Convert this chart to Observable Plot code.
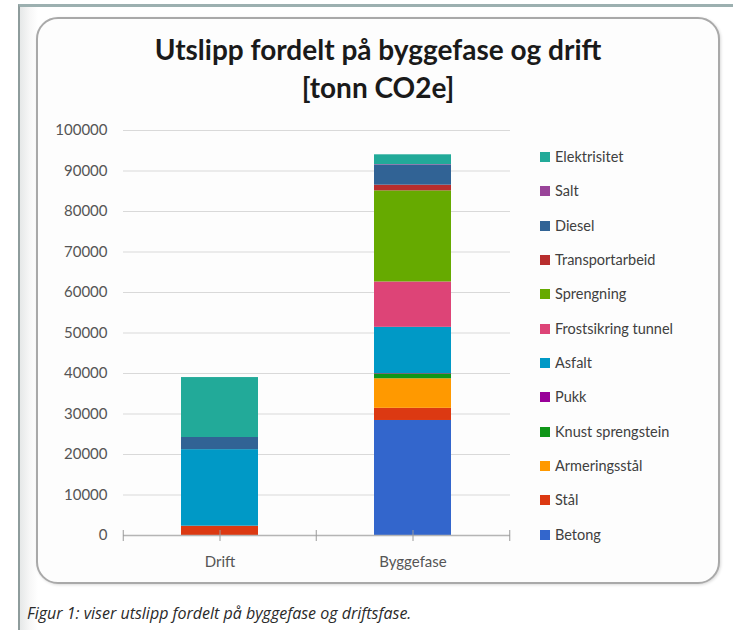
<!DOCTYPE html>
<html>
<head>
<meta charset="utf-8">
<script src="https://cdn.jsdelivr.net/npm/d3@7"></script>
<script src="https://cdn.jsdelivr.net/npm/@observablehq/plot@0.6"></script>
<style>
  html, body { margin: 0; padding: 0; background: #ffffff; }
  #page { position: relative; width: 733px; height: 630px; overflow: hidden; background: #ffffff; font-family: Lato, "Open Sans", sans-serif; }
  #sheet { position: absolute; left: 18px; top: 4px; width: 740px; height: 640px;
    border-left: 2px solid #8e9c9c; border-top: 3px solid #9cb0b0;
    background: linear-gradient(to right, #e6e8e8 0px, #f7f7f7 10px, #ffffff 18px); }
  #frame { position: absolute; left: 36px; top: 17px; width: 680px; height: 563px;
    border: 2px solid #a9a9a9; border-radius: 22px; background: #fdfdfd;
    box-shadow: 1px 1px 3px rgba(0,0,0,0.15); }
  #title { position: absolute; left: 37px; width: 682px; top: 30px; text-align: center;
    font-size: 28px; font-weight: bold; line-height: 38px; color: #1a1a1a; }
  #chart { position: absolute; left: 0; top: 120px; }
  #legend { position: absolute; left: 540px; top: 148px; }
  .item { height: 34.35px; display: flex; align-items: flex-start; font-size: 14.5px; color: #404040; line-height: 18px; }
  .sw { width: 10px; height: 10px; margin-top: 4px; margin-right: 5px; }
  #caption { position: absolute; left: 27px; top: 602px; font-family: "Open Sans", sans-serif; font-size: 16px; font-style: italic; color: #2a2a2a; }
</style>
</head>
<body>
<div id="page">
  <div id="sheet"></div>
  <div id="frame"></div>
  <div id="title">Utslipp fordelt på byggefase og drift<br>[tonn CO2e]</div>
  <div id="chart"></div>
  <div id="legend"></div>
  <div id="caption">Figur 1: viser utslipp fordelt på byggefase og driftsfase.</div>
</div>
<script>
const phases = ["Drift", "Byggefase"];
const sources = ["Betong", "Stål", "Armeringsstål", "Knust sprengstein", "Pukk", "Asfalt",
  "Frostsikring tunnel", "Sprengning", "Transportarbeid", "Diesel", "Salt", "Elektrisitet"];
const drift =     [0,     2300, 0,    0,    0,   18900, 0,     0,     0,    3000, 0,   14800];
const byggefase = [28400, 3000, 7300, 1200, 100, 11400, 11200, 22500, 1400, 5000, 100, 2400];
const colors = ["#3366cc", "#dc3912", "#ff9900", "#109618", "#990099", "#0099c6",
  "#dd4477", "#66aa00", "#b82e2e", "#316395", "#994499", "#22aa99"];
const yTicks = [0, 10000, 20000, 30000, 40000, 50000, 60000, 70000, 80000, 90000, 100000];

const series = {Drift: drift, Byggefase: byggefase};
const data = [];
for (const p of phases) sources.forEach((s, i) => data.push({phase: p, source: s, value: series[p][i]}));

const W = 733, H = 460, mL = 123, mR = 223, mT = 10, mB = 45;
const step = (W - mL - mR) / phases.length;

const chart = Plot.plot({
  width: W, height: H,
  marginLeft: mL, marginRight: mR, marginTop: mT, marginBottom: mB,
  style: {fontFamily: "Lato, 'Open Sans', sans-serif", fontSize: "15px", color: "#595959", background: "transparent"},
  x: {domain: phases, paddingInner: 0.6, paddingOuter: 0.3, axis: null},
  y: {domain: [0, 100000], axis: null},
  color: {domain: sources, range: colors},
  marks: [
    Plot.gridY(yTicks, {stroke: "#d9d9d9", strokeOpacity: 1, strokeWidth: 1.2}),
    Plot.barY(data, {x: "phase", y: "value", fill: "source"}),
    Plot.ruleY([0], {stroke: "#b5b5b5", strokeWidth: 1.5}),
    Plot.axisY(yTicks, {tickSize: 0, tickPadding: 16, tickFormat: d => String(d), fill: "#555", label: null}),
    Plot.axisX(phases, {tickSize: 0, tickPadding: 21, fill: "#555", label: null}),
    Plot.axisX(phases, {tickSize: 11, dy: -5, tickFormat: () => "", stroke: "#9a9a9a", label: null}),
    Plot.axisX(phases, {tickSize: 11, dy: -5, dx: -step / 2, tickFormat: () => "", stroke: "#9a9a9a", label: null}),
    Plot.axisX(phases.slice(-1), {tickSize: 11, dy: -5, dx: step / 2, tickFormat: () => "", stroke: "#9a9a9a", label: null})
  ]
});
document.getElementById("chart").appendChild(chart);

const legend = document.getElementById("legend");
sources.slice().reverse().forEach(s => {
  const it = document.createElement("div");
  it.className = "item";
  const sw = document.createElement("div");
  sw.className = "sw";
  sw.style.background = colors[sources.indexOf(s)];
  const t = document.createElement("span");
  t.textContent = s;
  it.appendChild(sw); it.appendChild(t);
  legend.appendChild(it);
});
</script>
</body>
</html>
